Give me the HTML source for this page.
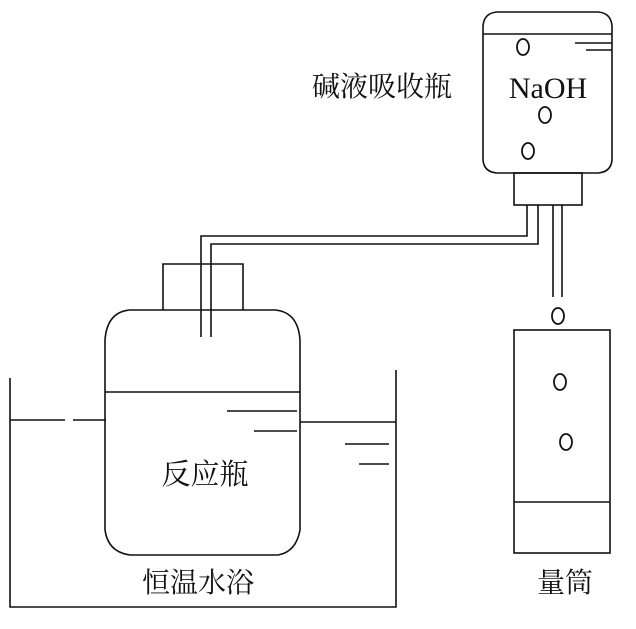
<!DOCTYPE html>
<html><head><meta charset="utf-8"><style>
html,body{margin:0;padding:0;background:#fff;}
svg{display:block;}
text{font-family:"Liberation Serif","Noto Serif CJK SC","Noto Sans CJK SC",serif;fill:#111;}
</style></head><body>
<svg width="636" height="629" viewBox="0 0 636 629" xmlns="http://www.w3.org/2000/svg">
<g fill="none" stroke="#111" stroke-width="1.6">
<!-- bath -->
<polyline points="10,378 10,607 396,607 396,370"/>
<line x1="10" y1="420" x2="65" y2="420"/><line x1="73" y1="420" x2="106" y2="420"/>
<line x1="300" y1="422" x2="396" y2="422"/>
<line x1="345" y1="444" x2="389" y2="444"/><line x1="359" y1="464" x2="389" y2="464"/>
<!-- reaction bottle -->
<path d="M130,310 L275,310 Q298,312 300,340 L300,530 Q296,552 278,555 L130,555 Q108,552 105,530 L105,340 Q107,312 130,310 Z"/>
<line x1="105" y1="392" x2="300" y2="392"/>
<line x1="227" y1="411" x2="297" y2="411"/><line x1="254" y1="431" x2="297" y2="431"/>
<polyline points="163,310 163,264 243,264 243,310"/>
<!-- tubes -->
<polyline points="201,337 201,236 527,236 527,205"/>
<polyline points="211,337 211,244 538,244 538,205"/>
<line x1="553" y1="205" x2="553" y2="297"/><line x1="562" y1="205" x2="562" y2="297"/>
<!-- NaOH bottle -->
<path d="M497,12 L598,12 Q611,13 612,26 L612,160 Q611,172 598,173 L497,173 Q484,172 483,160 L483,26 Q484,13 497,12 Z"/>
<line x1="483" y1="34" x2="612" y2="34"/>
<line x1="575" y1="43" x2="612" y2="43"/><line x1="586" y1="50" x2="612" y2="50"/>
<rect x="514" y="173" width="68" height="32"/>
<!-- cylinder -->
<rect x="514" y="330" width="96" height="223"/>
<line x1="514" y1="502" x2="610" y2="502"/>
<!-- bubbles -->
<g stroke-width="1.8">
<ellipse cx="523" cy="47" rx="6" ry="8"/>
<ellipse cx="545" cy="115" rx="6" ry="8"/>
<ellipse cx="528" cy="151" rx="6" ry="8"/>
<ellipse cx="558" cy="316" rx="6" ry="8"/>
<ellipse cx="560" cy="382" rx="6" ry="8"/>
<ellipse cx="566" cy="442" rx="6" ry="8"/>
</g>
</g>
<text x="548" y="98" font-size="30" text-anchor="middle">NaOH</text>
<text x="382" y="96" font-size="28" text-anchor="middle">碱液吸收瓶</text>
<text x="205" y="484" font-size="29" text-anchor="middle">反应瓶</text>
<text x="198" y="592" font-size="28" text-anchor="middle">恒温水浴</text>
<text x="565" y="592" font-size="28" text-anchor="middle">量筒</text>
</svg>
</body></html>
